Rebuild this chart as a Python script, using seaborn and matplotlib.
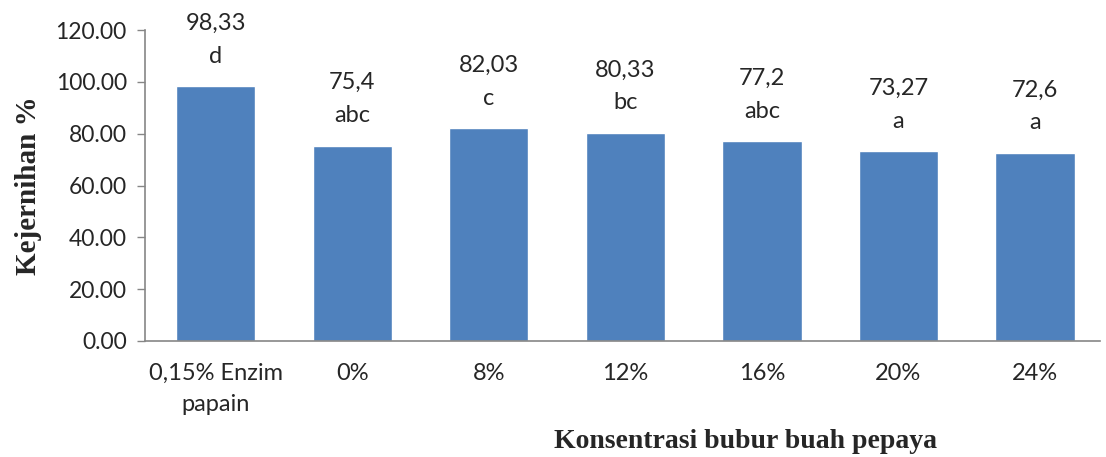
import matplotlib
matplotlib.use("Agg")
import matplotlib.pyplot as plt
import seaborn as sns
import pandas as pd

categories = ["0,15% Enzim\npapain", "0%", "8%", "12%", "16%", "20%", "24%"]
values = [98.33, 75.4, 82.03, 80.33, 77.2, 73.27, 72.6]
value_labels = ["98,33", "75,4", "82,03", "80,33", "77,2", "73,27", "72,6"]
letters = ["d", "abc", "c", "bc", "abc", "a", "a"]

df = pd.DataFrame({"perlakuan": categories, "kejernihan": values})

sns.set_style("white")
plt.rcParams["font.family"] = ["Lato", "DejaVu Sans"]

fig = plt.figure(figsize=(11.06, 4.57), dpi=100)
ax = fig.add_axes([0.131, 0.254, 0.864, 0.680])

sns.barplot(data=df, x="perlakuan", y="kejernihan", color="#4F81BD",
            saturation=1, width=0.58, ax=ax)

ax.set_ylim(0, 120)
ax.set_yticks(range(0, 121, 20))
ax.set_yticklabels([f"{t:.2f}" for t in range(0, 121, 20)], fontsize=16.5)
ax.set_xlim(-0.52, 6.48)
ax.tick_params(axis="x", length=0, pad=16)
for lbl in ax.get_xticklabels():
    lbl.set_fontsize(17)
    lbl.set_linespacing(1.6)
ax.tick_params(axis="y", length=6, width=1, color="#868686", direction="out",
               left=True, pad=7)

for side in ("top", "right"):
    ax.spines[side].set_visible(False)
for side in ("left", "bottom"):
    ax.spines[side].set_color("#868686")
    ax.spines[side].set_linewidth(1.2)

for i, (v, vl, lt) in enumerate(zip(values, value_labels, letters)):
    ax.annotate(f"{vl}\n{lt}", xy=(i, v), xytext=(0, 14),
                textcoords="offset points", ha="center", va="bottom",
                fontsize=17, linespacing=1.7)

ax.set_xlabel("")
ax.set_ylabel("Kejernihan %", family="Liberation Serif", fontweight="bold",
              fontsize=21, labelpad=10)
fig.text(0.674, 0.033, "Konsentrasi bubur buah pepaya", family="Liberation Serif",
         fontweight="bold", fontsize=20, ha="center", va="center")

fig.savefig("out.png", dpi=100)
